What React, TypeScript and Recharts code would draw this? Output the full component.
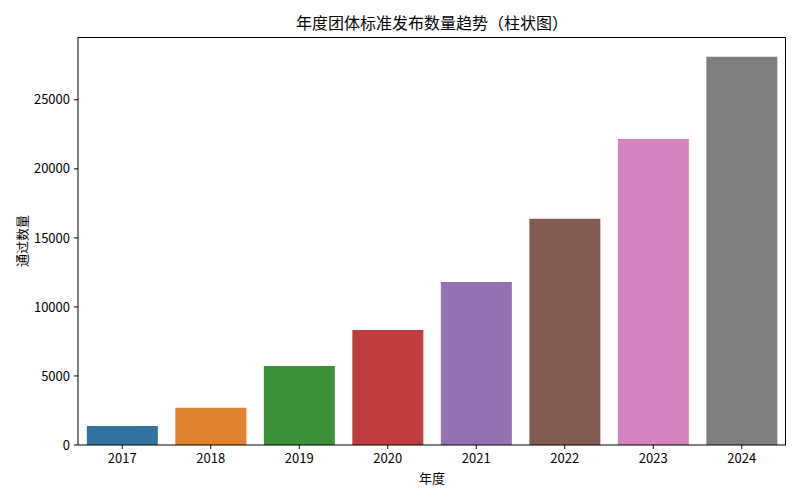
import React from 'react';
import { BarChart, Bar, XAxis, YAxis, Cell, Label } from 'recharts';

const years = ['2017', '2018', '2019', '2020', '2021', '2022', '2023', '2024'];
const counts = [1380, 2700, 5720, 8330, 11810, 16380, 22170, 28120];
const colors = ['#3274a1', '#e1812c', '#3a923a', '#c03d3e', '#9372b2', '#845b53', '#d684bd', '#7f7f7f'];
const yTicks = [0, 5000, 10000, 15000, 20000, 25000];

const data = years.map((y, i) => ({ year: y, value: counts[i] }));
const FONT = '"Noto Sans CJK SC", "DejaVu Sans", sans-serif';

export default function App() {
  return (
    <div style={{ position: 'absolute', left: 0, top: 0, width: 800, height: 500, background: '#fff', fontFamily: FONT }}>
      <div style={{ position: 'absolute', left: 0, top: 10, width: 864, textAlign: 'center', fontSize: 16, color: '#000' }}>
        年度团体标准发布数量趋势（柱状图）
      </div>
      <BarChart width={800} height={500} data={data} margin={{ top: 37, right: 14, bottom: 0, left: 0 }} barCategoryGap="10%">
        <XAxis dataKey="year" height={55} tickLine={{ stroke: '#000' }} axisLine={{ stroke: '#000' }} tickSize={4} tickMargin={5}
          tick={{ fill: '#000', fontSize: 13, fontFamily: FONT }} interval={0}>
          <Label value="年度" position="insideBottom" offset={17} style={{ fill: '#000', fontSize: 13, fontFamily: FONT }} />
        </XAxis>
        <YAxis width={78} domain={[0, 29550]} ticks={yTicks} allowDataOverflow tickLine={{ stroke: '#000' }} axisLine={{ stroke: '#000' }} tickSize={4} tickMargin={4}
          tick={{ fill: '#000', fontSize: 13, fontFamily: FONT }}>
          <Label value="通过数量" angle={-90} position="insideLeft" offset={22} style={{ fill: '#000', fontSize: 13, fontFamily: FONT, textAnchor: 'middle' }} />
        </YAxis>
        <Bar dataKey="value" isAnimationActive={false}>
          {data.map((d, i) => (
            <Cell key={d.year} fill={colors[i]} />
          ))}
        </Bar>
      </BarChart>
      <div style={{ position: 'absolute', left: 78, top: 37, width: 707, height: 407, borderTop: '1px solid #000', borderRight: '1px solid #000', pointerEvents: 'none' }} />
    </div>
  );
}
